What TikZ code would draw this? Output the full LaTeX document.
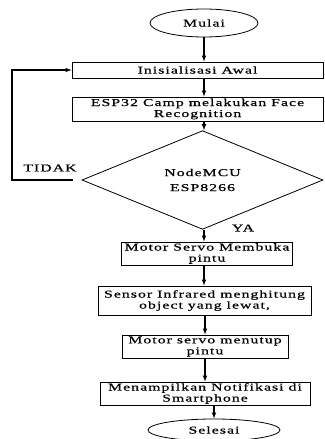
\documentclass[tikz,border=0pt]{standalone}
\usepackage{fontspec}
\setmainfont{Liberation Serif}
\newfontfamily\flowfont[FakeStretch=1.5,LetterSpace=10,FakeBold=0.6]{Liberation Serif}
\usepackage{tikz}
\usetikzlibrary{arrows,shapes.geometric,calc}

\tikzset{
  proses/.style={draw, line width=0.8pt, rectangle, inner sep=0pt, align=center, font=\flowfont\fontsize{10.5}{11}\selectfont},
  terminal/.style={draw, line width=0.8pt, ellipse, inner sep=0pt, font=\flowfont\fontsize{10.5}{11}\selectfont},
  keputusan/.style={draw, line width=0.8pt, diamond, inner sep=0pt, align=center, font=\flowfont\fontsize{10.5}{11}\selectfont},
  label/.style={font=\flowfont\fontsize{10.5}{11}\selectfont},
  panah/.style={->, >=latex, line width=1.1pt}
}

\begin{document}
\begin{tikzpicture}[x=1pt, y=-1pt]
\useasboundingbox (0,0) rectangle (324,439);

\node[terminal, minimum width=108pt, minimum height=28pt] (mulai) at (204,23) {Mulai};
\node[proses, minimum width=251pt, minimum height=16pt] (init) at (197.5,70) {Inisialisasi Awal};
\node[proses, minimum width=251pt, minimum height=24pt] (face) at (197.5,109) {ESP32 Camp melakukan Face\\Recognition};
\node[keputusan, minimum width=241pt, minimum height=78pt] (cek) at (202.5,180) {NodeMCU\\[4pt]ESP8266};
\node[proses, minimum width=171pt, minimum height=23pt] (buka) at (207,253.5) {Motor Servo Membuka\\pintu};
\node[proses, minimum width=213pt, minimum height=29pt] (sensor) at (204.5,300.5) {Sensor Infrared menghitung\\object yang lewat,};
\node[proses, minimum width=166pt, minimum height=23pt] (tutup) at (205,346.5) {Motor servo menutup\\pintu};
\node[proses, minimum width=210pt, minimum height=23pt] (notif) at (205,393.5) {Menampilkan Notifikasi di\\Smartphone};
\node[terminal, minimum width=132pt, minimum height=22pt] (selesai) at (214,430) {Selesai};

\node[label] (tidak) at (50,168) {TIDAK};
\node[label] (ya) at (243,228) {YA};
\coordinate (balik) at (12,180);

\draw[panah] (mulai.south) -- (mulai.south |- init.north);
\draw[panah] (init.south -| mulai) -- (face.north -| mulai);
\draw[panah] (face.south -| mulai) -- (cek.north -| mulai);
\draw[panah] (cek.south -| mulai) -- (buka.north -| mulai);
\draw[panah] (buka.south -| mulai) -- (sensor.north -| mulai);
\draw[panah] (sensor.south -| tutup) -- (tutup.north);
\draw[panah] (tutup.south) -- (notif.north);
\draw[panah] (notif.south -| selesai) -- (selesai.north);
\draw[panah] ([xshift=-9pt]cek.west) -- (cek.west -| balik) |- (init.west);
\end{tikzpicture}
\end{document}
